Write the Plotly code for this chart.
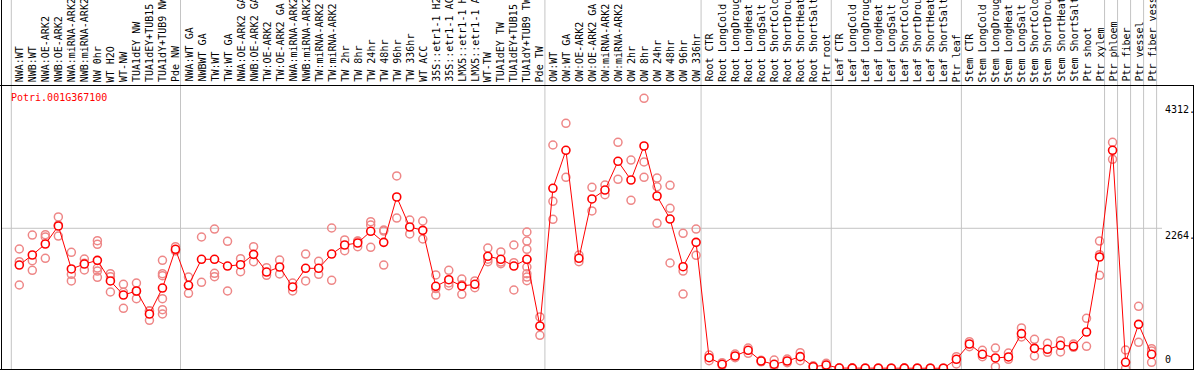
import plotly.graph_objects as go

categories = [
    "NWA:WT", "NWB:WT", "NWA:OE-ARK2", "NWB:OE-ARK2", "NWA:miRNA-ARK2", "NWB:miRNA-ARK2",
    "NW 0hr", "WT H2O", "WT-NW", "TUA1dEY NW", "TUA1dEY+TUB15 NW", "TUA1dY+TUB9 NW", "Pde NW",
    "NWA:WT GA", "NWBWT GA", "TW:WT", "TW:WT GA", "NWA:OE-ARK2 GA", "NWB:OE-ARK2 GA",
    "TW:OE-ARK2", "TW:OE-ARK2 GA", "NWA:miRNA-ARK2", "NWB:miRNA-ARK2", "TW:miRNA-ARK2",
    "TW:miRNA-ARK2", "TW 2hr", "TW 8hr", "TW 24hr", "TW 48hr", "TW 96hr", "TW 336hr", "WT ACC",
    "35S::etr1-1 H2O", "35S::etr1-1 ACC", "LMX5::etr1-1 H2O", "LMX5::etr1-1 ACC", "WT-TW",
    "TUA1dEY TW", "TUA1dEY+TUB15 TW", "TUA1dY+TUB9 TW", "Pde TW",
    "OW:WT", "OW:WT GA", "OW:OE-ARK2", "OW:OE-ARK2 GA", "OW:miRNA-ARK2", "OW:miRNA-ARK2",
    "OW 2hr", "OW 8hr", "OW 24hr", "OW 48hr", "OW 96hr", "OW 336hr",
    "Root CTR", "Root LongCold", "Root LongDrought", "Root LongHeat", "Root LongSalt",
    "Root ShortCold", "Root ShortDrought", "Root ShortHeat", "Root ShortSalt", "Ptr root",
    "Leaf CTR", "Leaf LongCold", "Leaf LongDrought", "Leaf LongHeat", "Leaf LongSalt",
    "Leaf ShortCold", "Leaf ShortDrought", "Leaf ShortHeat", "Leaf ShortSalt", "Ptr leaf",
    "Stem CTR", "Stem LongCold", "Stem LongDrought", "Stem LongHeat", "Stem LongSalt",
    "Stem ShortCold", "Stem ShortDrought", "Stem ShortHeat", "Stem ShortSalt", "Ptr shoot",
    "Ptr xylem", "Ptr phloem", "Ptr fiber", "Ptr vessel", "Ptr fiber vessel",
]

means = [
    1670, 1832, 2010, 2301, 1606, 1686, 1746, 1412, 1185, 1250, 878, 1298, 1924,
    1342, 1763, 1763, 1654, 1675, 1843, 1557, 1638, 1315, 1617, 1617, 1848, 1994, 2026,
    2215, 2037, 2770, 2285, 2231, 1326, 1433, 1331, 1358, 1811, 1763, 1654, 1763, 684,
    2911, 3525, 1779, 2738, 2883, 3347, 3045, 3595, 2786, 2414, 1643, 2037,
    171, 65, 199, 291, 118, 65, 118, 188, 26, 53,
    4, 3, 2, 2, 1, 3, 2, 1, 1, 146,
    393, 226, 167, 183, 560, 323, 307, 372, 356, 587, 1800,
    3525, 97, 711, 226,
]

replicates = [
    [1929, 1724, 1347], [2155, 1740, 1585], [2160, 2123, 1779], [2447, 2139, 2317],
    [1875, 1520, 1412], [1767, 1590, 1700], [2063, 2005, 1573, 1471, 1620],
    [1530, 1481, 1234], [1358, 970, 1230], [1379, 1125, 1245], [931, 776, 925],
    [1746, 1530, 1497, 1125, 948, 878], [1966, 1900, 1905],
    [1476, 1213, 1337], [2123, 1391], [2252, 1536, 1481], [2054, 1250], [1772, 1562],
    [1966, 1724], [1627, 1504], [1751, 1525], [1379, 1250], [1848, 1412], [1730, 1520],
    [2269, 1423], [2075, 1902], [2058, 1966, 2055], [2371, 2317, 1957], [2236, 2220, 1670],
    [3110, 2430], [2398, 2172], [2382, 2091], [1509, 1290, 1185], [1585, 1336, 1380],
    [1444, 1197, 1350], [1412, 1303], [1945, 1724, 1765], [1881, 1691, 1717],
    [1994, 1708, 1266], [2204, 2058, 1924, 1760, 1638, 1530, 1476, 1417], [830, 534],
    [3611, 2700, 2409], [3962, 3088], [1832, 1724], [2927, 2544], [2964, 2807],
    [3654, 3056], [3368, 2717], [4366, 3336, 3088], [3077, 2936, 2345], [2959, 2587, 1703],
    [2183, 1573, 1201], [2252, 1827],
    [215, 123], [91, 49], [231, 171], [328, 243], [130, 105], [134, 37], [150, 90],
    [252, 123], [40, 12], [80, 25],
    [6, 2], [5, 1], [3, 1], [4, 0], [2, 0], [5, 1], [3, 1], [2, 0], [2, 0], [188, 70],
    [430, 349], [291, 188], [328, 26], [247, 146], [652, 506], [469, 199], [404, 259],
    [446, 264], [393, 340], [808, 356], [2058, 1837, 1504],
    [3654, 3379], [296, 0], [1003, 420], [317, 97, 280],
]

group_starts = [0, 13, 41, 53, 63, 73, 84, 85, 86, 87, 88]
tick_values = [0, 2264, 4312]
tick_texts = ["0", "2264.", "4312."]
title_text = "Potri.001G367100"

W, H = 1194, 370
# pixel geometry of the reference
X0_PX, DX_PX = 19.3, 13.015
Y0_PX, DY_PX = 368.3, 0.06184

xr = [-X0_PX / DX_PX, (W - X0_PX) / DX_PX]
yr = [-(H - Y0_PX) / DY_PX, Y0_PX / DY_PX]

def py(px):  # pixel from top -> paper y
    return 1 - px / H

def pxx(px):
    return px / W

xs = list(range(len(categories)))
rep_x, rep_y = [], []
for i, reps in enumerate(replicates):
    for v in reps:
        rep_x.append(i)
        rep_y.append(v)

mono = "DejaVu Sans Mono"
fig = go.Figure()
fig.add_trace(go.Scatter(
    x=rep_x, y=rep_y, mode="markers",
    marker=dict(symbol="circle-open", size=8, color="rgb(238,135,135)",
                line=dict(width=1.5, color="rgb(238,135,135)")),
    hoverinfo="skip", showlegend=False))
fig.add_trace(go.Scatter(
    x=xs, y=means, mode="lines+markers",
    line=dict(color="red", width=1),
    marker=dict(symbol="circle", size=8, color="white",
                line=dict(width=1.6, color="red")),
    text=categories, showlegend=False))

shapes = []
for g in group_starts:
    shapes.append(dict(type="line", xref="x", yref="paper", x0=g - 0.615, x1=g - 0.615,
                       y0=py(369), y1=1, line=dict(color="#c4c4c4", width=1), layer="below"))
shapes.append(dict(type="line", xref="paper", yref="y", x0=pxx(1), x1=pxx(1162),
                   y0=tick_values[1], y1=tick_values[1],
                   line=dict(color="#c4c4c4", width=1), layer="below"))
# frame lines
shapes.append(dict(type="line", xref="paper", yref="paper", x0=0, x1=1, y0=py(85.5), y1=py(85.5),
                   line=dict(color="black", width=1)))
shapes.append(dict(type="line", xref="paper", yref="paper", x0=0, x1=1, y0=py(369.5), y1=py(369.5),
                   line=dict(color="black", width=1)))
shapes.append(dict(type="line", xref="paper", yref="paper", x0=pxx(1.5), x1=pxx(1.5), y0=0, y1=1,
                   line=dict(color="black", width=1)))
shapes.append(dict(type="line", xref="paper", yref="paper", x0=pxx(1193.5), x1=pxx(1193.5),
                   y0=py(85.5), y1=0, line=dict(color="black", width=1)))

annotations = []
for i, c in enumerate(categories):
    annotations.append(dict(x=i, xref="x", y=py(84), yref="paper", text=c, showarrow=False,
                            textangle=-90, xanchor="center", yanchor="bottom",
                            font=dict(family=mono, size=10, color="black")))
annotations.append(dict(x=pxx(9), xref="paper", y=py(97.5), yref="paper", text=title_text,
                        showarrow=False, xanchor="left", yanchor="middle",
                        font=dict(family=mono, size=10, color="red")))
for v, t in zip(tick_values, tick_texts):
    ypix = Y0_PX - v * DY_PX
    if v == 0:
        annotations.append(dict(x=pxx(1163), xref="paper", y=py(367), yref="paper", text=t,
                                showarrow=False, xanchor="left", yanchor="bottom",
                                font=dict(family=mono, size=10, color="black")))
    else:
        annotations.append(dict(x=pxx(1163), xref="paper", y=py(ypix), yref="paper", text=t,
                                showarrow=False, xanchor="left", yanchor="top",
                                font=dict(family=mono, size=10, color="black")))

fig.update_layout(
    width=W, height=H, margin=dict(l=0, r=0, t=0, b=0),
    paper_bgcolor="white", plot_bgcolor="white",
    xaxis=dict(range=xr, showgrid=False, zeroline=False, showticklabels=False, ticks="",
               showline=False, fixedrange=True),
    yaxis=dict(range=yr, showgrid=False, zeroline=False, showticklabels=False, ticks="",
               showline=False, fixedrange=True),
    shapes=shapes, annotations=annotations, showlegend=False,
)
fig.write_html(
    "out.html",
    config={"displayModeBar": False},
    post_script="document.body.style.margin='0px';document.body.style.overflow='hidden';",
)
